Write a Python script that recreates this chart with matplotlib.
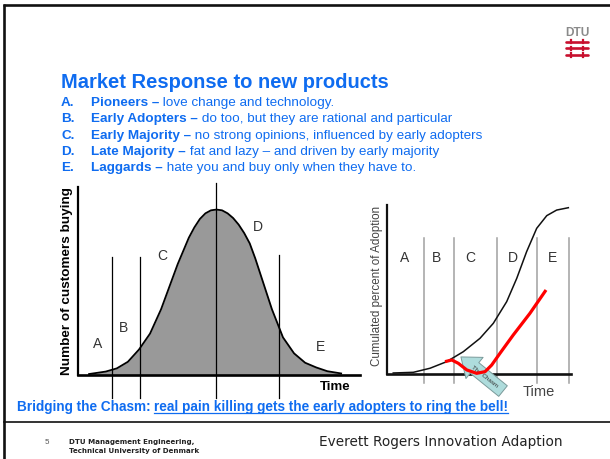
import matplotlib
matplotlib.use("Agg")
import matplotlib.pyplot as plt

plt.rcParams['font.family'] = ['Liberation Sans', 'DejaVu Sans']

# ---- slide text
title = "Market Response to new products"
list_keys = ["A.", "B.", "C.", "D.", "E."]
list_bold = ["Pioneers \u2013", "Early Adopters \u2013", "Early Majority \u2013",
             "Late Majority \u2013", "Laggards \u2013"]
list_rest = [" love change and technology.",
             " do too, but they are rational and particular",
             " no strong opinions, influenced by early adopters",
             " fat and lazy \u2013 and driven by early majority",
             " hate you and buy only when they have to."]
bottom_bold = "Bridging the Chasm: "
bottom_link = "real pain killing gets the early adopters to ring the bell!"
footer_num = "5"
footer_org = ["DTU Management Engineering,", "Technical University of Denmark"]
footer_title = "Everett Rogers Innovation Adaption"

# ---- left chart: bell curve (adopters per period)
bell_x = [4, 10, 14, 18, 22, 26, 30, 34, 36, 38, 40, 42, 44, 46, 48, 50,
          52, 54, 56, 58, 60, 62, 64, 66, 70, 74, 78, 82, 86, 90, 95]
bell_y = [0.5, 1.8, 3.5, 7, 13.5, 22, 35, 51, 59, 66, 73, 78.5, 83, 86, 87.6, 88,
          87.6, 86, 83.5, 80, 75.5, 70, 62, 53, 35, 20, 11.5, 6.5, 4, 2, 0.8]
bell_bounds = [12.3, 22.4, 50, 72.6]
bell_bound_top = [62.8, 62.8, 102, 63.8]
bell_letters = ["A", "B", "C", "D", "E"]
bell_letter_x = [7.2, 16.6, 30.3, 65, 87.7]
bell_letter_y = [16.5, 25, 63.3, 78.7, 14.9]

# ---- right chart: cumulated adoption + chasm
s_x = [3.4, 14.4, 23.5, 32.6, 41.7, 50.8, 58.1, 65.4, 70.9, 76.3, 81.8, 87.3, 92.7, 99.1]
s_y = [0.6, 1.0, 3.4, 7.3, 13.2, 21.1, 30, 42.8, 56.6, 72.4, 86.2, 93.7, 97, 98.4]
red_x = [31.7, 35.4, 39, 43.6, 49, 53.6, 57.2, 61.7, 69, 78.1, 86.9]
red_y = [7.3, 8.3, 6.3, 2.4, 0.4, 1.4, 5.3, 12.2, 23.1, 35.9, 49.7]
cum_bounds = [20.2, 36.6, 60.1, 82, 99.5]
cum_letter_x = [9.8, 27.3, 45.4, 68.9, 90.2]

blue = '#0f6cf0'

fig = plt.figure(figsize=(6.1, 4.59), dpi=100)

# background axes in pixel units for the slide decoration
bg = fig.add_axes([0, 0, 1, 1])
bg.set_xlim(0, 610)
bg.set_ylim(459, 0)
bg.axis('off')

bg.plot([3, 610], [5, 5], color='#111111', lw=1.9, solid_capstyle='butt')
bg.plot([4, 4], [4, 459], color='#111111', lw=1.9, solid_capstyle='butt')
bg.plot([4, 610], [421.5, 421.5], color='#111111', lw=1.2)

# DTU logo
bg.text(577, 35.5, "DTU", ha='center', va='baseline', fontsize=8.6, color='#8a8a8a',
        fontweight='bold')
for yy in [41.5, 48.3, 55]:
    bg.plot([566, 588], [yy, yy], color='#c8102e', lw=1.9, solid_capstyle='round')
    for xx in [571, 583]:
        bg.plot([xx, xx], [yy - 1.8, yy + 1.8], color='#c8102e', lw=1.6)

# title and list
bg.text(61, 88, title, fontsize=14.5, fontweight='bold', color=blue, va='baseline')
y0 = 106.2
for i in range(5):
    yy = y0 + i * 16.25
    bg.text(61, yy, list_keys[i], fontsize=9.7, fontweight='bold', color=blue, va='baseline')
    t = bg.text(91, yy, list_bold[i], fontsize=9.7, fontweight='bold', color=blue, va='baseline')
    bg.annotate(list_rest[i], xy=(1, 0), xycoords=t, fontsize=9.7, color=blue,
                va='bottom', ha='left')

# bottom line
tb = bg.text(17, 410.7, bottom_bold, fontsize=9.8, fontweight='bold', color=blue, va='baseline')
tl = bg.annotate(bottom_link, xy=(1, 0), xycoords=tb, fontsize=9.8, fontweight='bold',
                 color=blue, va='bottom', ha='left')

# footer
bg.text(47, 444, footer_num, fontsize=5.8, color='#555555', va='baseline', ha='center')
bg.text(69, 444, footer_org[0], fontsize=5.1, fontweight='bold', color='#222222',
        va='baseline', family='DejaVu Sans')
bg.text(69, 453, footer_org[1], fontsize=5.1, fontweight='bold', color='#222222',
        va='baseline', family='DejaVu Sans')
bg.text(319, 446, footer_title, fontsize=9.85, color='#222222', va='baseline',
        family='DejaVu Sans')

# ---- left chart
ax1 = fig.add_axes([64.15 / 610, 1 - 399.4 / 459, 304.7 / 610, 219.9 / 459])
ax1.set_xlim(-5, 105)
ax1.set_ylim(-13, 104)
ax1.axis('off')
ax1.patch.set_alpha(0)

ax1.fill_between(bell_x, bell_y, 0, color='#999999', lw=0)
ax1.plot(bell_x, bell_y, color='black', lw=1.3, solid_joinstyle='round')
for bx, top in zip(bell_bounds, bell_bound_top):
    ax1.plot([bx, bx], [-12.2, top], color='black', lw=0.9, clip_on=False)
ax1.plot([0, 0], [0, 100], color='black', lw=1.6, clip_on=False)
ax1.plot([0, 101.8], [0, 0], color='black', lw=1.9, clip_on=False)
for lab, lx, ly in zip(bell_letters, bell_letter_x, bell_letter_y):
    ax1.text(lx, ly, lab, ha='center', va='center', fontsize=10, color='#333333')
ax1.text(92.8, -6.4, "Time", ha='center', va='center', fontsize=9.5, fontweight='bold')
ax1.text(-4.0, 50, "Number of customers buying", rotation=90, ha='center', va='center',
         fontsize=9.7, fontweight='bold')

# ---- right chart
ax2 = fig.add_axes([365.04 / 610, 1 - 399.35 / 459, 214.11 / 610, 199.42 / 459])
ax2.set_xlim(-12, 105)
ax2.set_ylim(-15, 103)
ax2.axis('off')
ax2.patch.set_alpha(0)

for cx in cum_bounds:
    ax2.plot([cx, cx], [-5.5, 80.4], color='#a0a0a0', lw=1.1)
ax2.plot(s_x, s_y, color='#111111', lw=1.1)
ax2.plot([0, 0], [0, 100], color='#111111', lw=1.6)
ax2.plot([0, 100.5], [0, 0], color='#111111', lw=1.9)
ax2.annotate('', xy=(40.4, 10.1), xytext=(63.4, -10.1), zorder=3,
             arrowprops=dict(arrowstyle='simple,head_length=0.9,head_width=1.4,tail_width=0.7',
                             fc='#aedcdc', ec='#7a9a9a', lw=0.7, mutation_scale=14,
                             shrinkA=0, shrinkB=0))
ax2.text(53.5, -1.5, "The Chasm", rotation=-38, ha='center', va='center', fontsize=4.5,
         color='#333333', zorder=4)
ax2.plot(red_x, red_y, color='#ff0000', lw=2.3, solid_capstyle='butt', zorder=5)
for lab, lx in zip(bell_letters, cum_letter_x):
    ax2.text(lx, 68.5, lab, ha='center', va='center', fontsize=10, color='#333333')
ax2.text(83, -10.7, "Time", ha='center', va='center', fontsize=10.5, color='#444444')
ax2.text(-5.5, 52, "Cumulated percent of Adoption", rotation=90, ha='center', va='center',
         fontsize=8.4, color='#444444')

# underline the link part of the bottom line
fig.canvas.draw()
bb = tl.get_window_extent()
bg.plot([bb.x0, bb.x1], [412.8, 412.8], color=blue, lw=0.9)

fig.savefig("out.png", dpi=100)
